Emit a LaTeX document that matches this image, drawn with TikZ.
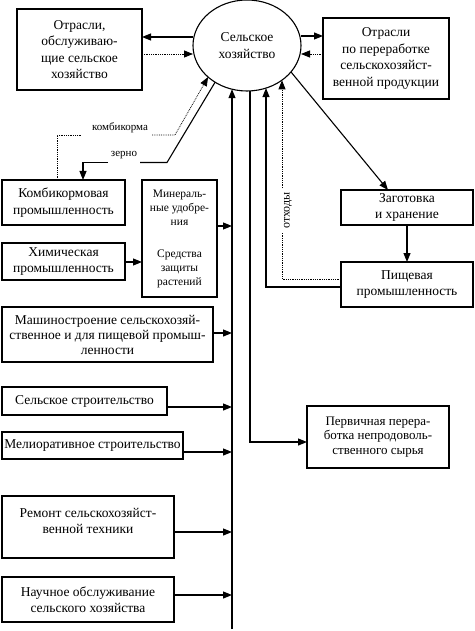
\documentclass[tikz,border=0pt]{standalone}
\usepackage{fontspec}
\setmainfont{Liberation Serif}
\usetikzlibrary{arrows.meta,calc,shapes.geometric}
\newcommand\fmain{\fontsize{13.5}{16.5}\selectfont}
\newcommand\fms{\fontsize{13.5}{15}\selectfont}
\newcommand\fsm{\fontsize{11.5}{14}\selectfont}
\newcommand\fpp{\fontsize{13}{14.5}\selectfont}
\newcommand\flab{\fontsize{11}{13}\selectfont}
\begin{document}
\begin{tikzpicture}[x=1pt,y=-1pt,
  box/.style={draw, line width=1.1pt, rectangle, align=center, inner sep=1pt, outer sep=0pt, font=\fmain},
  txt/.style={align=center, inner sep=0pt},
  lab/.style={inner sep=0pt, font=\flab},
  conn/.style={line width=1.1pt, -{Triangle[length=9pt,width=7pt]}},
  plainl/.style={line width=1.1pt},
  dotarr/.style={line width=0.8pt, densely dotted, -{Triangle[length=9pt,width=7pt]}},
  dotl/.style={line width=0.8pt, densely dotted}]
\useasboundingbox (0,0) rectangle (474,631);
\fill[white] (0,0) rectangle (474,631);

% nodes
\node[draw, ellipse, line width=1.1pt, minimum width=108pt, minimum height=91pt, inner sep=0pt, outer sep=0pt, align=center, font=\fmain] (el) at (247,45.5) {Сельское\\хозяйство};
\node[box, minimum width=125pt, minimum height=81pt] (ob) at (79.5,49.5) {Отрасли,\\обслуживаю-\\щие сельское\\хозяйство};
\node[box, minimum width=126pt, minimum height=81pt] (pr) at (386,58.5) {Отрасли\\по переработке\\сельскохозяйст-\\венной продукции};
\node[box, minimum width=123pt, minimum height=45pt] (kk) at (63.5,202.5) {Комбикормовая\\промышленность};
\node[box, minimum width=75pt, minimum height=117pt] (mn) at (179.5,238.5) {};
\node[txt, font=\fsm] (mn1) at (179.5,207.5) {Минераль-\\ные удобре-\\ния};
\node[txt, font=\fsm] (mn2) at (179.5,268.5) {Средства\\защиты\\растений};
\node[box, minimum width=123pt, minimum height=37pt] (ch) at (63.5,261.5) {Химическая\\промышленность};
\node[box, minimum width=211pt, minimum height=55pt, font=\fms] (ms) at (107.5,334.5) {Машиностроение сельскохозяй-\\ственное и для пищевой промыш-\\ленности};
\node[box, minimum width=165pt, minimum height=28pt] (ss) at (84.5,401) {Сельское строительство};
\node[box, minimum width=181pt, minimum height=27pt] (ml) at (92.5,445.5) {Мелиоративное строительство};
\node[box, minimum width=172pt, minimum height=62pt] (rm) at (88,527) {};
\node[txt, font=\fmain] (rmt) at (88,521) {Ремонт сельскохозяйст-\\венной техники};
\node[box, minimum width=172pt, minimum height=45pt] (nu) at (88,599.5) {Научное обслуживание\\сельского хозяйства};
\node[box, minimum width=132pt, minimum height=35pt] (zg) at (407,207.5) {Заготовка\\и хранение};
\node[box, minimum width=132pt, minimum height=45pt] (pi) at (407,284.5) {Пищевая\\промышленность};
\node[box, minimum width=142pt, minimum height=62pt, font=\fpp] (pp) at (378,437) {Первичная перера-\\ботка непродоволь-\\ственного сырья};

% labels
\node[lab] (lk) at (120,127.5) {комбикорма};
\node[lab] (lz) at (124,155) {зерно};
\node[lab, font=\fontsize{12}{14}\selectfont, rotate=90] (otx) at (288,210.5) {отходы};

% coordinates
\coordinate (busb) at (232,629);
\coordinate (k1) at (57,135);
\coordinate (k1a) at (82,135);
\coordinate (k1b) at (152,135);
\coordinate (k2) at (175,135);
\coordinate (z1) at (167,162.5);
\coordinate (z1a) at (140,162.5);
\coordinate (z1b) at (108,162.5);
\coordinate (z2) at (83,162.5);
\coordinate (b2) at (250,442);
\coordinate (c3) at (266,287);
\coordinate (d1) at (282,279);
\coordinate (d2) at (282,233);
\coordinate (d3) at (282,188);

% top connectors
\draw[conn] (el.west |- 0,37) -- (ob.east |- 0,37);
\draw[dotarr] (ob.east |- 0,54) -- (el.west |- 0,54);
\draw[conn] (el.east |- 0,36) -- (pr.west |- 0,36);
\draw[dotarr] (pr.west |- 0,54) -- (el.east |- 0,54);

% kombikorma / zerno
\draw[dotl] (kk.north -| k1) -- (k1) -- (k1a);
\draw[dotarr] (k1b) -- (k2) -- (el.219);
\draw[plainl] (el.229) -- (z1) -- (z1a);
\draw[conn] (z1b) -- (z2) -- (kk.north -| z2);

% bus
\draw[conn] (busb) -- (busb |- el.251);
\draw[conn] (b2 |- el.274) -- (b2) -- (pp.west |- b2);
\draw[conn] (pi.west |- c3) -- (c3) -- (c3 |- el.294);
\draw[dotl] (pi.west |- d1) -- (d1) -- (d2);
\draw[dotarr] (d3) -- (d3 |- el.315);
\draw[conn] (el.-31) -- (388,0 |- zg.north);
\draw[conn] (zg.south) -- (pi.north);

% into bus
\draw[conn] (mn.east |- 0,226) -- (busb |- 0,226);
\draw[conn] (ch.east |- 0,262) -- (mn.west |- 0,262);
\draw[conn] (ms.east |- 0,333) -- (busb |- 0,333);
\draw[conn] (ss.east |- 0,407) -- (busb |- 0,407);
\draw[conn] (ml.east |- 0,452) -- (busb |- 0,452);
\draw[conn] (rm.east |- 0,532) -- (busb |- 0,532);
\draw[conn] (nu.east |- 0,595) -- (busb |- 0,595);
\end{tikzpicture}
\end{document}
